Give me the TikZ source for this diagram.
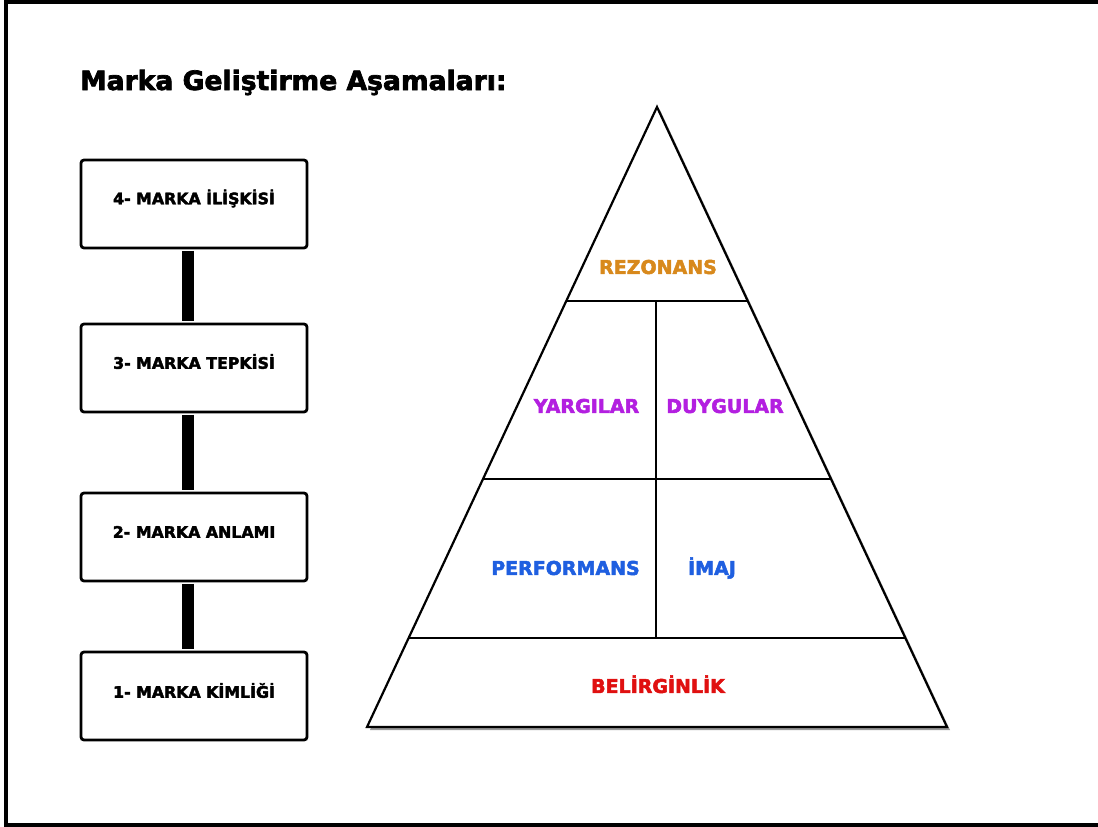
\documentclass[tikz,border=0pt]{standalone}
\usepackage{fontspec}
\setmainfont{DejaVu Sans}[BoldFeatures={FakeBold=2.6}]
\usetikzlibrary{calc}
\definecolor{rezcol}{HTML}{D8891C}
\definecolor{yarcol}{HTML}{B31FE0}
\definecolor{percol}{HTML}{1F5FE0}
\definecolor{belcol}{HTML}{E01010}
\begin{document}
\begin{tikzpicture}[x=1pt,y=-1pt,
  stagebox/.style={draw, line width=2.8pt, rounded corners=3pt, minimum width=226pt, minimum height=88pt, inner sep=0pt, fill=white},
  stagetext/.style={font=\fontsize{15.8}{16}\selectfont\bfseries, inner sep=0pt, text height=11.5pt, text depth=0pt},
  pyrlabel/.style={font=\fontsize{19}{20}\selectfont\bfseries, inner sep=0pt, text height=13.9pt, text depth=0pt},
  bar/.style={line width=12pt},
  pyrline/.style={line width=2.2pt, line join=miter}]
\useasboundingbox (0,0) rectangle (1098,827);
\fill[white] (0,0) rectangle (1098,827);
\draw[line width=4pt] (1098,2) -- (6,2) -- (6,825) -- (1098,825);
% title
\node[anchor=base west, font=\fontsize{26.6}{28}\selectfont\bfseries, inner sep=0pt] (title) at (80,90) {Marka Geliştirme Aşamaları:};
% stage boxes
\node[stagebox] (b4) at (194,204) {};
\node[stagebox] (b3) at (194,368) {};
\node[stagebox] (b2) at (194,537) {};
\node[stagebox] (b1) at (194,696) {};
\node[stagetext] (t4) at ([yshift=5.5pt]b4.center) {4- MARKA İLİŞKİSİ};
\node[stagetext] (t3) at ([yshift=5pt]b3.center) {3- MARKA TEPKİSİ};
\node[stagetext] (t2) at ([yshift=5pt]b2.center) {2- MARKA ANLAMI};
\node[stagetext] (t1) at ([yshift=4pt]b1.center) {1- MARKA KİMLİĞİ};
\draw[bar] ([xshift=-6pt,yshift=-1.5pt]b4.south) -- ([xshift=-6pt,yshift=1.5pt]b3.north);
\draw[bar] ([xshift=-6pt,yshift=-1.5pt]b3.south) -- ([xshift=-6pt,yshift=1.5pt]b2.north);
\draw[bar] ([xshift=-6pt,yshift=-1.5pt]b2.south) -- ([xshift=-6pt,yshift=1.5pt]b1.north);
% pyramid
\coordinate (apex) at (657,107);
\coordinate (bl) at (367,727);
\coordinate (br) at (947,727);
\fill[black!40] ([shift={(3,3)}]apex) -- ([shift={(3,3)}]br) -- ([shift={(3,3)}]bl) -- cycle;
\filldraw[pyrline, fill=white] (apex) -- (br) -- (bl) -- cycle;
\coordinate (l1) at ($(apex)!0.3129!(bl)$);
\coordinate (r1) at ($(apex)!0.3129!(br)$);
\coordinate (l2) at ($(apex)!0.6!(bl)$);
\coordinate (r2) at ($(apex)!0.6!(br)$);
\coordinate (l3) at ($(apex)!0.8565!(bl)$);
\coordinate (r3) at ($(apex)!0.8565!(br)$);
\coordinate (m1) at (656,301);
\coordinate (m3) at (656,638);
\draw[pyrline] (l1) -- (r1);
\draw[pyrline] (l2) -- (r2);
\draw[pyrline] (l3) -- (r3);
\draw[pyrline] (m1) -- (m3);
% labels
\node[pyrlabel, text=rezcol] (rez) at (658,267) {REZONANS};
\node[pyrlabel, text=yarcol] (yar) at (586.5,406) {YARGILAR};
\node[pyrlabel, text=yarcol] (duy) at (725,406) {DUYGULAR};
\node[pyrlabel, text=percol] (per) at (565.5,568) {PERFORMANS};
\node[pyrlabel, text=percol] (ima) at (712,568) {İMAJ};
\node[pyrlabel, text=belcol] (bel) at (658,686) {BELİRGİNLİK};
\end{tikzpicture}
\end{document}
